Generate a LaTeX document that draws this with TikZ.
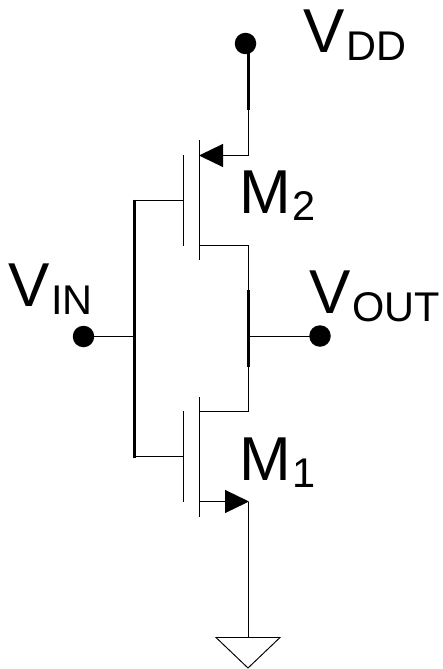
\documentclass[tikz,border=0pt]{standalone}
\usepackage{fontspec}
\setmainfont{Liberation Sans}
\usetikzlibrary{positioning, arrows.meta}
\newcommand{\biglabel}[2]{\fontsize{62}{62}\selectfont #1\raisebox{-7.8pt}{\hspace{1.5pt}\fontsize{41.5}{42}\selectfont #2}}
\begin{document}
\begin{tikzpicture}
		[
		x=1pt, y=-1pt,
		dot/.style ={circle, fill=black, inner sep=0pt, minimum size=21.5pt},
		lbl/.style ={anchor=base west, inner sep=0pt},
		wire/.style ={line width=0.95pt},
		bus/.style ={line width=2.6pt},
		lead/.style ={line width=1.7pt},
		fet/.style ={-{Triangle[length=24pt, width=23pt]}, line width=1.2pt, shorten >=-0.5pt}
		]
		\useasboundingbox (0,0) rectangle (443,669);
		\node[dot] (vdd) at (245.5,43.5) {};
		\node[dot] (vin) at (83.5,336.5) {};
		\node[dot] (vout) at (320,336) {};
		\node[lbl] (vddl) at (303,52.7) {\biglabel{V}{DD}};
		\node[lbl] (vinl) at (8,306.7) {\biglabel{V}{IN}};
		\node[lbl] (voutl) at (309,313.5) {\biglabel{V}{OUT}};
		\node[lbl] (m2l) at (239,213) {\biglabel{M}{2}};
		\node[lbl] (m1l) at (239,480) {\biglabel{M}{1}};
		% M2
		\coordinate (top) at (248.5,43.5);
		\coordinate (topb) at (248.5,110);
		\coordinate (m2s) at (248.5,155.5);
		\coordinate (m2c) at (199.5,155.5);
		\coordinate (m2ct) at (199.5,140);
		\coordinate (m2cb) at (199.5,260);
		\coordinate (m2d) at (199.5,245.5);
		\coordinate (m2dr) at (248.5,245.5);
		\coordinate (m2gt) at (183.5,155);
		\coordinate (m2gb) at (183.5,246);
		\coordinate (m2g) at (183.5,200.5);
		% M1
		\coordinate (m1d) at (199.5,411.5);
		\coordinate (m1dr) at (248.5,411.5);
		\coordinate (m1ct) at (199.5,397);
		\coordinate (m1cb) at (199.5,517);
		\coordinate (m1gt) at (183.5,411);
		\coordinate (m1gb) at (183.5,502);
		\coordinate (m1g) at (183.5,456.5);
		\coordinate (m1c) at (199.5,501.5);
		\coordinate (m1s) at (248.5,501.5);
		% input and output
		\coordinate (gt) at (134.5,199.5);
		\coordinate (gb) at (134.5,457.5);
		\coordinate (gw) at (134.5,200.5);
		\coordinate (gv) at (134.5,456.5);
		\coordinate (gm) at (134.5,336.5);
		\coordinate (ot) at (248.5,290);
		\coordinate (ob) at (248.5,367);
		\coordinate (om) at (248.5,336.5);
		\coordinate (oe) at (320,336.5);
		% ground
		\coordinate (gnd) at (248.5,637.5);
		\coordinate (gndl) at (216,637.5);
		\coordinate (gndr) at (280,637.5);
		\coordinate (gnda) at (248,668);
		\draw[bus] (top) -- (topb);
		\draw[wire] (topb) -- (m2s);
		\draw[fet] (m2s) -- (m2c);
		\draw[wire] (m2ct) -- (m2cb);
		\draw[wire] (m2gt) -- (m2gb);
		\draw[wire] (m2d) -- (m2dr) -- (m1dr) -- (m1d);
		\draw[wire] (m1ct) -- (m1cb);
		\draw[wire] (m1gt) -- (m1gb);
		\draw[wire] (gw) -- (m2g);
		\draw[wire] (gv) -- (m1g);
		\draw[bus] (gt) -- (gb);
		\draw[bus] (ot) -- (ob);
		\draw[lead] (vin) -- (gm);
		\draw[lead] (om) -- (oe);
		\draw[fet] (m1c) -- (m1s);
		\draw[wire] (m1s) -- (gnd);
		\draw[wire, line join=miter] (gndl) -- (gndr) -- (gnda) -- cycle;
	\end{tikzpicture}
\end{document}
